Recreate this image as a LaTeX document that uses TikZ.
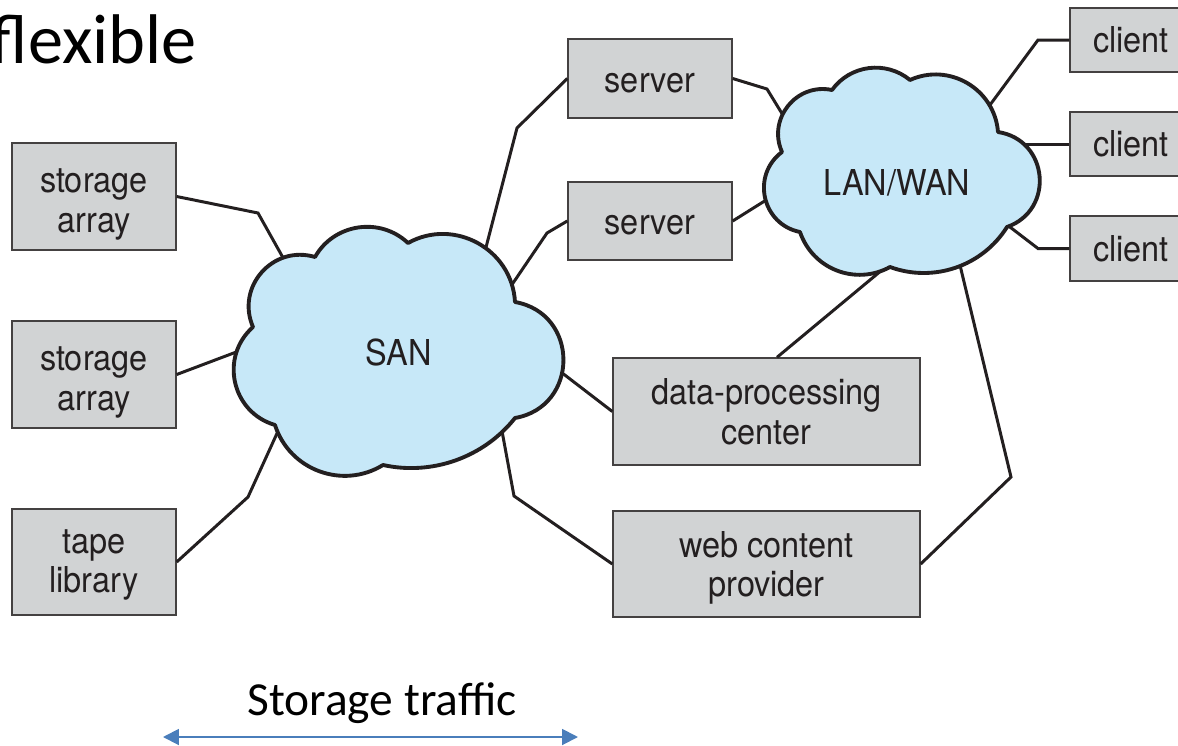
\documentclass[tikz,border=0pt]{standalone}
\usepackage{fontspec}
\usetikzlibrary{arrows.meta}
\newfontfamily\netfont{TeX Gyre Heros}[FakeStretch=0.91]
\newfontfamily\slidefont{Carlito}
\definecolor{cloudblue}{HTML}{C7E8F8}
\definecolor{boxgray}{HTML}{D1D3D4}
\definecolor{ink}{HTML}{231F20}
\definecolor{arrowblue}{HTML}{4A7EBB}
% raises the height of a first text line so that the label sits lower in its box
\newcommand{\tallline}[1]{\rule{0pt}{#1}}

\begin{document}
\begin{tikzpicture}[x=0.02cm, y=-0.02cm,
  box/.style={draw=ink!85, line width=0.8pt, fill=boxgray, inner sep=0pt,
    align=center, text=ink, font=\netfont\fontsize{20.3}{22.5}\selectfont},
  link/.style={draw=ink, line width=1.7pt, line join=miter},
  cloudshape/.style={draw=ink, fill=cloudblue, line width=2.2pt, line join=round},
  cloudlabel/.style={inner sep=0pt, text=ink, font=\netfont\fontsize{20.3}{22.5}\selectfont},
  traffic/.style={draw=arrowblue, line width=1.1pt, {Triangle[length=9pt,width=9pt]}-{Triangle[length=9pt,width=9pt]}}
]
\useasboundingbox (0,0) rectangle (1178,745);

% heading fragment and legend
\node[anchor=base east, inner sep=0pt, font=\slidefont\fontsize{40}{48}\selectfont] (title) at (197,63) {flexible};
\node[anchor=base, inner sep=0pt, font=\slidefont\fontsize{27}{32}\selectfont] (legend) at (382,715) {Storage traffic};
\coordinate (trafficL) at (163,737);
\coordinate (trafficR) at (578,737);
\draw[traffic] (trafficL) -- (trafficR);

% devices
\node[box, minimum width=3.28cm, minimum height=2.14cm] (sa1) at (94,196.5) {\tallline{0.8cm}storage\\array};
\node[box, minimum width=3.28cm, minimum height=2.14cm] (sa2) at (94,374.5) {\tallline{0.8cm}storage\\array};
\node[box, minimum width=3.28cm, minimum height=2.12cm] (tape) at (94,562) {\tallline{0.6cm}tape\\library};
\node[box, minimum width=3.28cm, minimum height=1.58cm, text height=0.54cm, text depth=0pt] (srv1) at (650,78.5) {server};
\node[box, minimum width=3.28cm, minimum height=1.56cm, text height=0.52cm, text depth=0pt] (srv2) at (650,221) {server};
\node[box, minimum width=6.14cm, minimum height=2.14cm] (dpc) at (766.5,411.5) {data-processing\\center};
\node[box, minimum width=6.14cm, minimum height=2.12cm] (web) at (766.5,564) {\tallline{0.68cm}web content\\provider};
\node[box, minimum width=2.44cm, minimum height=1.28cm] (cl1) at (1131,40) {client};
\node[box, minimum width=2.44cm, minimum height=1.28cm] (cl2) at (1131,144) {client};
\node[box, minimum width=2.44cm, minimum height=1.30cm] (cl3) at (1131,248.5) {client};

% attachment points on the SAN cloud
\coordinate (sanA) at (286,263);
\coordinate (sanB) at (239,351);
\coordinate (sanC) at (279,429);
\coordinate (sanD) at (484,255);
\coordinate (sanE) at (509,289);
\coordinate (sanF) at (557,369);
\coordinate (sanG) at (502,431);
% attachment points on the LAN/WAN cloud
\coordinate (lanA) at (789,125);
\coordinate (lanB) at (771,197);
\coordinate (lanC) at (987,109);
\coordinate (lanD) at (1019,144);
\coordinate (lanE) at (1006,224);
\coordinate (lanF) at (888,265);
\coordinate (lanG) at (959,261);

% links
\draw[link] (sa1.east) -- (258,213) -- (sanA);
\draw[link] (sa2.east) -- (sanB);
\draw[link] (tape.east) -- (248,497) -- (sanC);
\draw[link] (srv1.west) -- (517,128) -- (sanD);
\draw[link] (srv2.west) -- (547,233) -- (sanE);
\draw[link] (dpc.west) -- (sanF);
\draw[link] (web.west) -- (514,496) -- (sanG);
\draw[link] (srv1.east) -- (767,89) -- (lanA);
\draw[link] (srv2.east) -- (lanB);
\draw[link] (cl1.west) -- (1038,40) -- (lanC);
\draw[link] (cl2.west) -- (lanD);
\draw[link] (cl3.west) -- (1038,248.5) -- (lanE);
\draw[link] ([xshift=0.21cm]dpc.north) -- (lanF);
\draw[link] (web.east) -- (1011,477) -- (lanG);

% SAN cloud
\draw[cloudshape] (253,327)
  to[bend left=65, looseness=1.2] (315,257)
  to[bend left=52, looseness=1.05] (408,243)
  to[bend left=58, looseness=1.11] (515,302)
  to[bend left=80, looseness=1.45] (515,418)
  to[bend left=32, looseness=0.92] (383,465)
  to[bend left=52, looseness=1.05] (275,425)
  to[bend left=61, looseness=1.15] (253,327) -- cycle;
\node[cloudlabel] (san) at (399,352) {SAN};

% LAN/WAN cloud
\draw[cloudshape] (782,152)
  to[bend left=63, looseness=1.17] (832,90)
  to[bend left=47, looseness=1.01] (910,80)
  to[bend left=55, looseness=1.08] (998,132)
  to[bend left=76, looseness=1.37] (1007,227)
  to[bend left=39, looseness=0.96] (890,267)
  to[bend left=50, looseness=1.04] (800,232)
  to[bend left=66, looseness=1.21] (782,152) -- cycle;
\node[cloudlabel] (lan) at (897,183) {LAN/WAN};
\end{tikzpicture}
\end{document}
